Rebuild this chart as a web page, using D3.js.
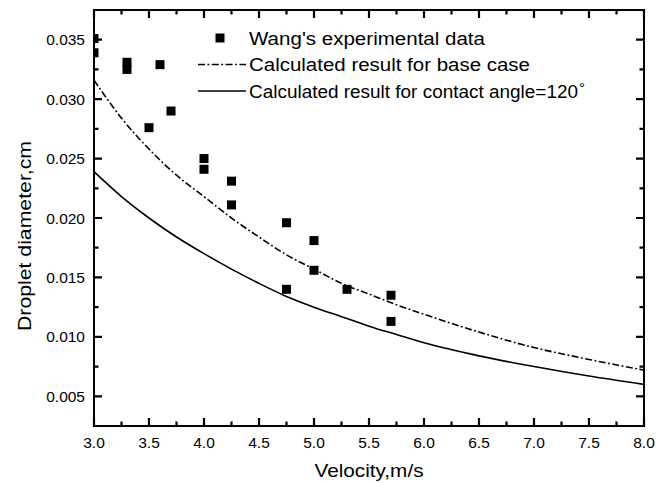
<!DOCTYPE html>
<html>
<head>
<meta charset="utf-8">
<script src="https://cdn.jsdelivr.net/npm/d3@7"></script>
<style>
  body { margin: 0; background: #fff; }
  text { font-family: "Liberation Sans", Arial, sans-serif; fill: #000; }
</style>
</head>
<body>
<div id="chart"></div>
<script>
// experimental points (velocity m/s, diameter cm)
var expV = [3.0, 3.0, 3.3, 3.3, 3.5, 3.6, 3.7, 4.0, 4.0, 4.25, 4.25, 4.75, 4.75, 5.0, 5.0, 5.3, 5.7, 5.7]
var expD = [0.0351, 0.0339, 0.0331, 0.0325, 0.0276, 0.0329, 0.0290, 0.0250, 0.0241, 0.0231, 0.0211, 0.0196, 0.0140, 0.0181, 0.0156, 0.0140, 0.0135, 0.0113]

// calculated curves
var calcV = [3.0, 3.25, 3.5, 3.75, 4.0, 4.25, 4.5, 4.75, 5.0, 5.25, 5.5, 5.75, 6.0, 6.5, 7.0, 7.5, 8.0]
var baseD = [0.0316, 0.0284, 0.0258, 0.0236, 0.0218, 0.0200, 0.0184, 0.0169, 0.0157, 0.0145, 0.0136, 0.0127, 0.0119, 0.0104, 0.0091, 0.0081, 0.0072]
var angleD = [0.0239, 0.0218, 0.0200, 0.0184, 0.0170, 0.0157, 0.0145, 0.0134, 0.0125, 0.0117, 0.0109, 0.0102, 0.0095, 0.0084, 0.0075, 0.0067, 0.0060]

var xTicks = [3.0, 3.5, 4.0, 4.5, 5.0, 5.5, 6.0, 6.5, 7.0, 7.5, 8.0]
var yTicks = [0.005, 0.010, 0.015, 0.020, 0.025, 0.030, 0.035]
var xMinor = [3.25, 3.75, 4.25, 4.75, 5.25, 5.75, 6.25, 6.75, 7.25, 7.75]
var yMinor = [0.0025, 0.0075, 0.0125, 0.0175, 0.0225, 0.0275, 0.0325]
var legendLabels = ["Wang's experimental data", "Calculated result for base case", "Calculated result for contact angle=120"]

var width = 670, height = 483
var margin = {top: 10, right: 26, bottom: 57, left: 94}
var w = width - margin.left - margin.right
var h = height - margin.top - margin.bottom

var svg = d3.select('#chart').append('svg')
  .attr('width', width)
  .attr('height', height)

var g = svg.append('g')
  .attr('transform', 'translate(' + margin.left + ',' + margin.top + ')')

var x = d3.scaleLinear().domain([3.0, 8.0]).range([0, w])
var y = d3.scaleLinear().domain([0.0025, 0.0375]).range([h, 0])

g.append('clipPath').attr('id', 'clip')
  .append('rect').attr('width', w).attr('height', h)

var plot = g.append('g').attr('clip-path', 'url(#clip)')

var line = d3.line()
  .x(function (d) { return x(d[0]) })
  .y(function (d) { return y(d[1]) })
  .curve(d3.curveMonotoneX)

var dashDot = '7,2.5,1.8,2.5'

plot.append('path')
  .attr('d', line(calcV.map(function (v, i) { return [v, baseD[i]] })))
  .attr('fill', 'none')
  .attr('stroke', '#000')
  .attr('stroke-width', 1.6)
  .attr('stroke-dasharray', dashDot)

plot.append('path')
  .attr('d', line(calcV.map(function (v, i) { return [v, angleD[i]] })))
  .attr('fill', 'none')
  .attr('stroke', '#000')
  .attr('stroke-width', 1.6)

var sq = 9
plot.selectAll('rect.pt')
  .data(expV.map(function (v, i) { return [v, expD[i]] }))
  .enter().append('rect')
  .attr('class', 'pt')
  .attr('x', function (d) { return x(d[0]) - sq / 2 })
  .attr('y', function (d) { return y(d[1]) - sq / 2 })
  .attr('width', sq)
  .attr('height', sq)
  .attr('fill', '#000')

// frame first, then inward ticks on all four sides as one path
g.append('rect')
  .attr('width', w).attr('height', h)
  .attr('fill', 'none').attr('stroke', '#000').attr('stroke-width', 2)

var tickPath = d3.path()
function addX(vals, len) {
  vals.forEach(function (d) {
    tickPath.moveTo(x(d), h); tickPath.lineTo(x(d), h - len)
    tickPath.moveTo(x(d), 0); tickPath.lineTo(x(d), len)
  })
}
function addY(vals, len) {
  vals.forEach(function (d) {
    tickPath.moveTo(0, y(d)); tickPath.lineTo(len, y(d))
    tickPath.moveTo(w, y(d)); tickPath.lineTo(w - len, y(d))
  })
}
addX(xTicks, 8)
addX(xMinor, 4.5)
addY(yTicks, 8)
addY(yMinor, 4.5)

g.append('path')
  .attr('class', 'ticks')
  .attr('d', tickPath.toString())
  .attr('fill', 'none')
  .attr('stroke', '#000')
  .attr('stroke-width', 2.2)

g.selectAll('text.xl').data(xTicks).enter().append('text')
  .attr('class', 'xl')
  .attr('x', function (d) { return x(d) })
  .attr('y', h + 22)
  .attr('text-anchor', 'middle')
  .style('font-size', '15.5px')
  .text(d3.format('.1f'))

g.selectAll('text.yl').data(yTicks).enter().append('text')
  .attr('class', 'yl')
  .attr('x', -9)
  .attr('y', function (d) { return y(d) + 5.5 })
  .attr('text-anchor', 'end')
  .style('font-size', '15.5px')
  .text(d3.format('.3f'))

// axis titles
svg.append('text')
  .attr('x', margin.left + w / 2)
  .attr('y', 477)
  .attr('text-anchor', 'middle')
  .attr('textLength', 109)
  .attr('lengthAdjust', 'spacingAndGlyphs')
  .style('font-size', '18.5px')
  .text('Velocity,m/s')

svg.append('text')
  .attr('transform', 'translate(31,236) rotate(-90)')
  .attr('text-anchor', 'middle')
  .attr('textLength', 190)
  .attr('lengthAdjust', 'spacingAndGlyphs')
  .style('font-size', '18.5px')
  .text('Droplet diameter,cm')

// legend
var legendLengths = [236, 281, 329]
var lg = svg.append('g').attr('transform', 'translate(198,38)')
var rowH = 26.5
lg.append('rect').attr('x', 17.5).attr('y', -4.5).attr('width', sq).attr('height', sq).attr('fill', '#000')
lg.append('line').attr('x1', 0).attr('x2', 48).attr('y1', rowH).attr('y2', rowH)
  .attr('stroke', '#000').attr('stroke-width', 1.6).attr('stroke-dasharray', dashDot)
lg.append('line').attr('x1', 0).attr('x2', 48).attr('y1', rowH * 2).attr('y2', rowH * 2)
  .attr('stroke', '#000').attr('stroke-width', 1.6)

lg.selectAll('text.lab')
  .data(legendLabels)
  .enter().append('text')
  .attr('class', 'lab')
  .attr('x', 51)
  .attr('y', function (d, i) { return i * rowH + 6.5 })
  .attr('textLength', function (d, i) { return legendLengths[i] })
  .attr('lengthAdjust', 'spacingAndGlyphs')
  .style('font-size', '17.5px')
  .text(function (d) { return d })

lg.append('text')
  .attr('x', 51 + legendLengths[2] + 1)
  .attr('y', rowH * 2 + 2)
  .style('font-size', '15px')
  .text('°')
</script>
</body>
</html>
